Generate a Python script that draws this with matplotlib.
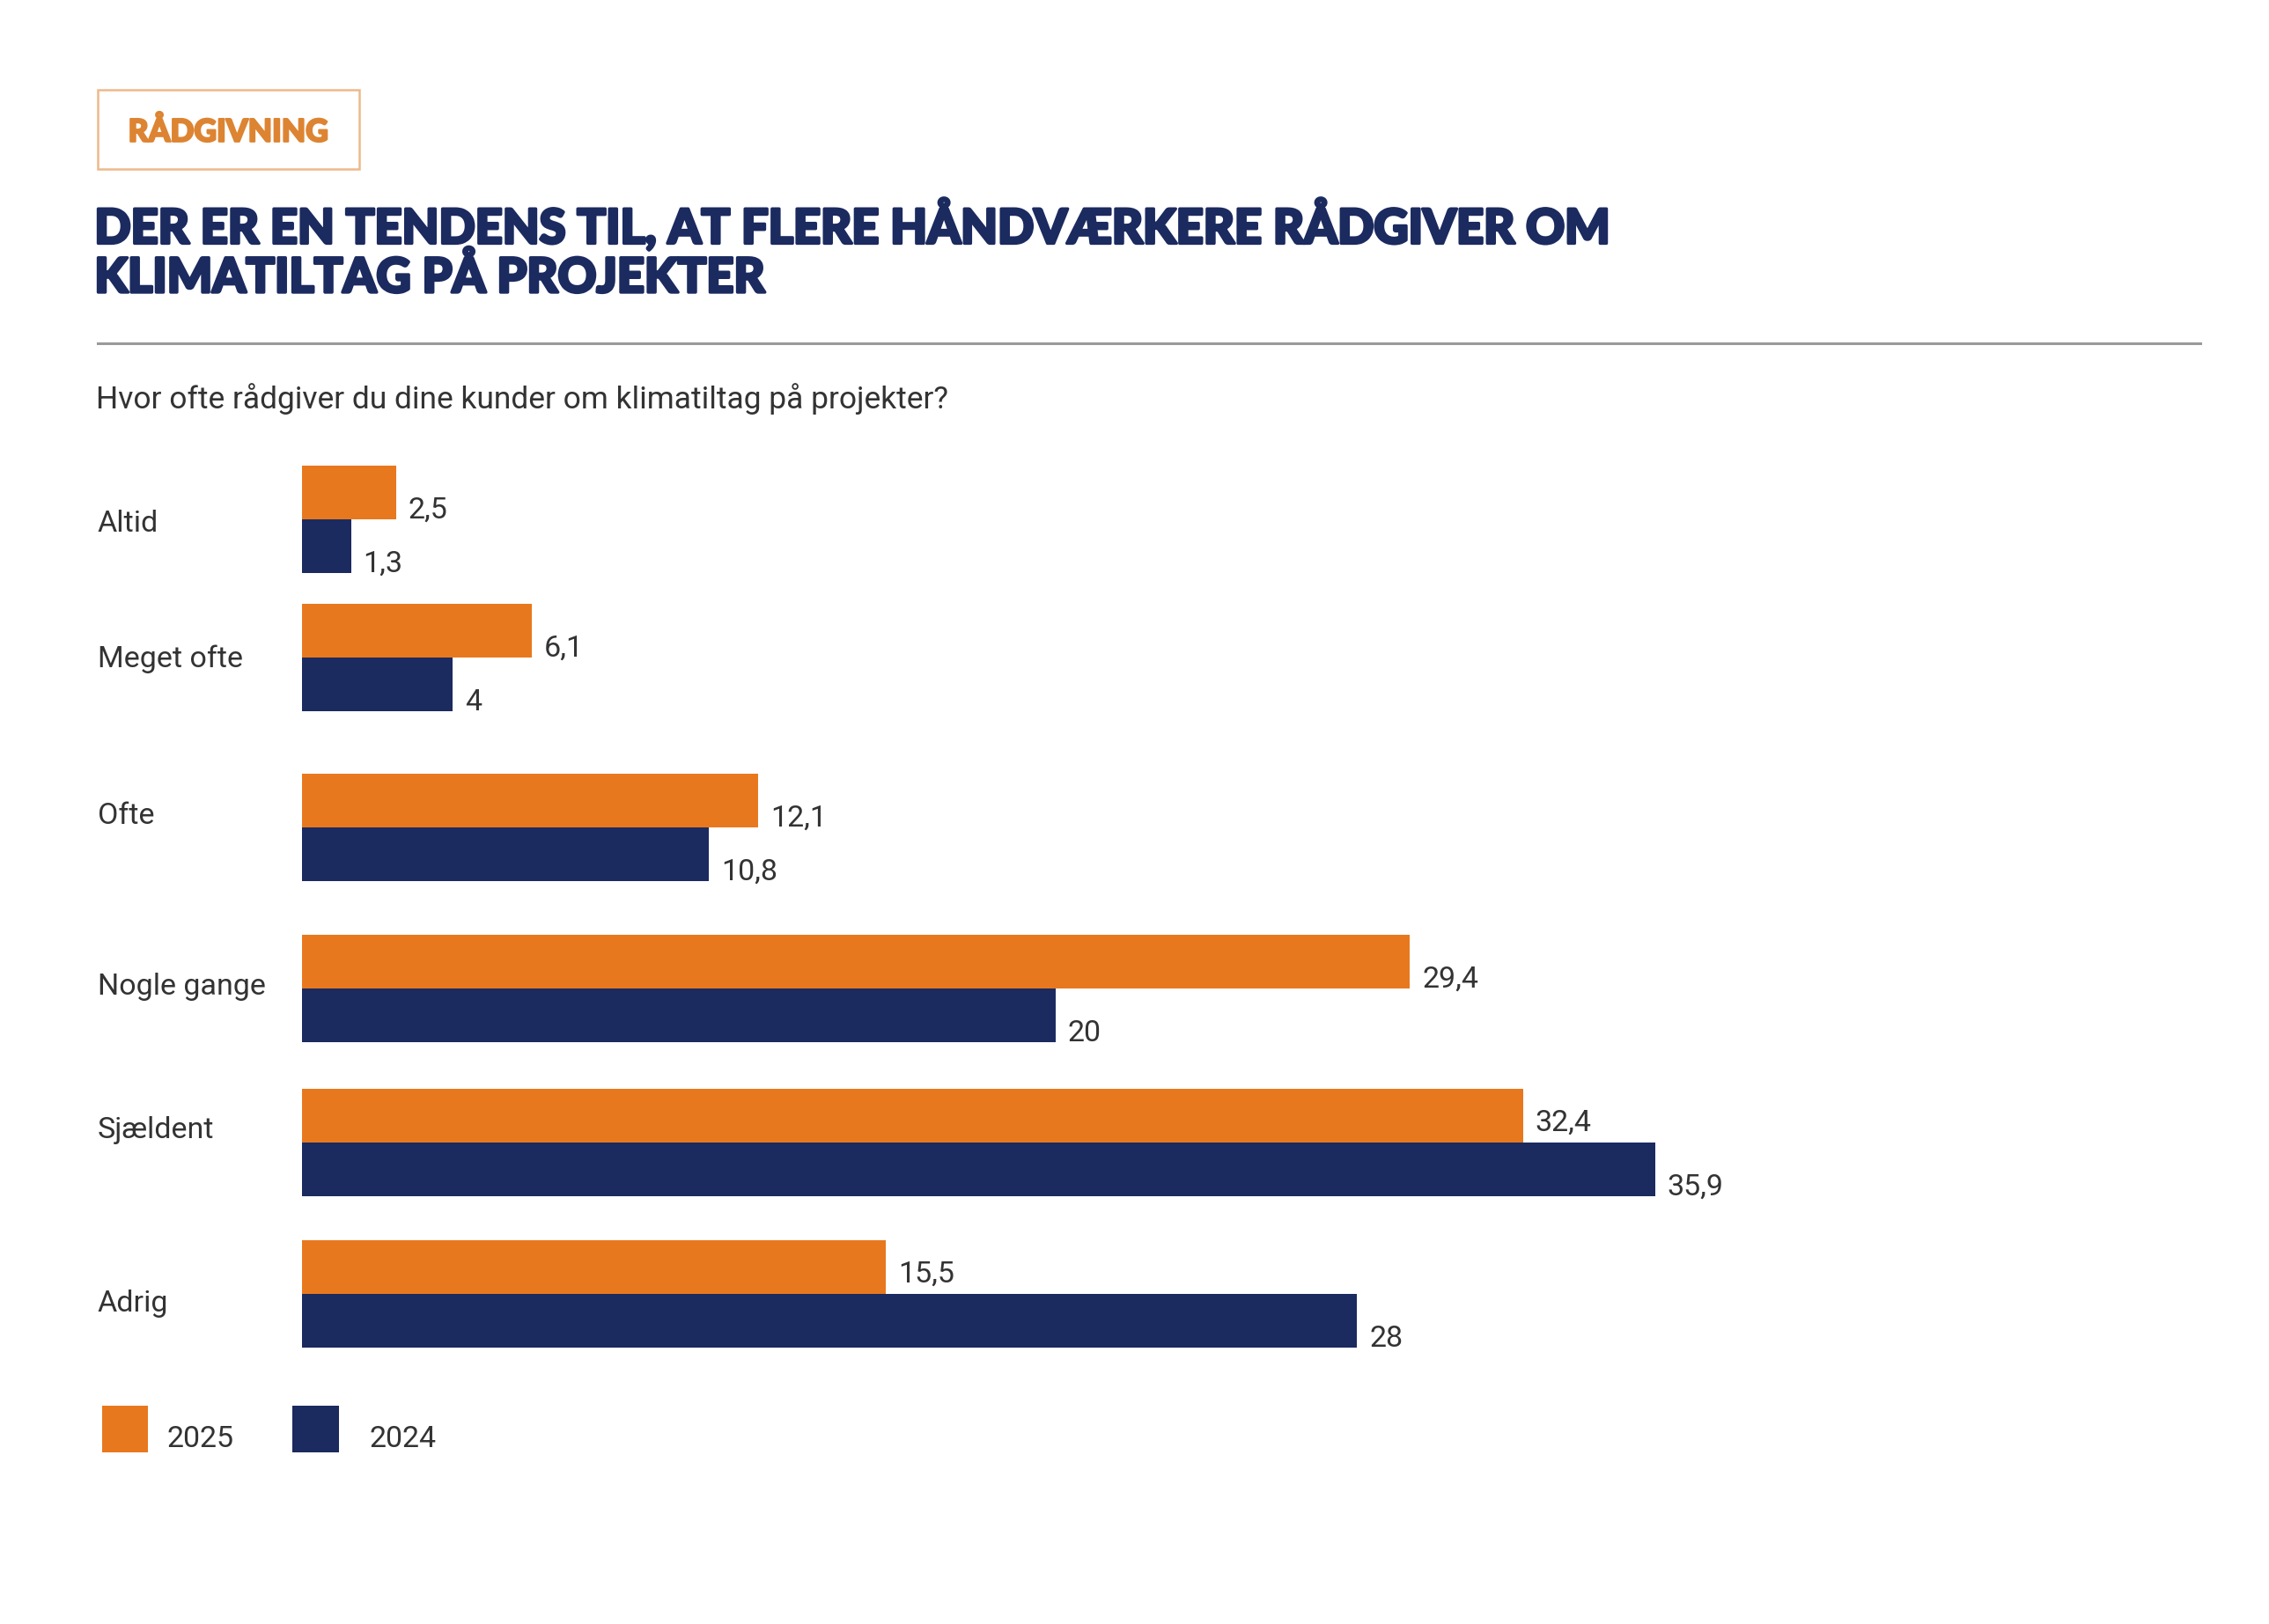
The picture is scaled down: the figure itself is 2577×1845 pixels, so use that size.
import matplotlib
matplotlib.use("Agg")
import matplotlib.pyplot as plt
from matplotlib.patches import Rectangle
import matplotlib.transforms as mtransforms
import matplotlib.patheffects as pe

# ---- data ----
categories = ["Altid", "Meget ofte", "Ofte", "Nogle gange", "Sjældent", "Adrig"]
series_names = ["2025", "2024"]
values_2025 = [2.5, 6.1, 12.1, 29.4, 32.4, 15.5]
values_2024 = [1.3, 4.0, 10.8, 20.0, 35.9, 28.0]

tag_text = "RÅDGIVNING"
title_lines = ["DER ER EN TENDENS TIL, AT FLERE HÅNDVÆRKERE RÅDGIVER OM",
               "KLIMATILTAG PÅ PROJEKTER"]
subtitle = "Hvor ofte rådgiver du dine kunder om klimatiltag på projekter?"

# ---- layout / style ----
ORANGE = "#E8781E"
NAVY = "#1B2A5F"
TEXT = "#333333"
TAG = "#DD8432"
row_pos = [0.0, 1.57, 3.50, 5.33, 7.08, 8.80]   # uneven row spacing of the layout
label_nudge = [0.05, 0.02, -0.13, -0.02, -0.14, 0.11]
bar_h = 0.61

W, H = 2577, 1845
fig = plt.figure(figsize=(W / 100, H / 100), dpi=100)
fig.patch.set_facecolor("white")

S = W / 1560.0
def fx(d):
    return d * S / W
def fy(d):
    return 1 - d * S / H
def px(x):
    return x / W
def py(y):
    return 1 - y / H

body_font = "Roboto"
head_font = ["Lato", "Roboto"]

# Tag box
fig.patches.append(Rectangle((fx(67), fy(116)), fx(247) - fx(67), fy(62) - fy(116),
                             transform=fig.transFigure, fill=False,
                             edgecolor="#EDB98A", linewidth=1.8))
fig.text(fx(157), fy(91), tag_text, ha="center", va="center", color=TAG,
         fontsize=25.5, fontweight="black", family=head_font,
         path_effects=[pe.withStroke(linewidth=1.6, foreground=TAG)])

# Title
for i, line in enumerate(title_lines):
    fig.text(fx(65), fy(155 + 36 * i), line, ha="left", va="center", color=NAVY,
             fontsize=39, fontweight="black", family=head_font,
             path_effects=[pe.withStroke(linewidth=2.4, foreground=NAVY)])

# Rule
fig.add_artist(plt.Line2D([fx(67), fx(1513)], [fy(236), fy(236)],
                          transform=fig.transFigure, color="#9a9a9a", linewidth=2.2))

# Subtitle
fig.text(fx(66), fy(274), subtitle, ha="left", va="center", color=TEXT,
         fontsize=25.5, family=body_font)

# Bars axis (pixel layout)
x_left = 343
unit_px = 42.8
xmax = 50
top_px, bot_px = 490, 1590
ax = fig.add_axes([px(x_left), py(bot_px), (xmax * unit_px) / W, (bot_px - top_px) / H])
ax.set_xlim(0, xmax)
ax.set_ylim((bot_px - 590) / 100.0, (top_px - 590) / 100.0)

y25 = [p - bar_h / 2 for p in row_pos]
y24 = [p + bar_h / 2 for p in row_pos]
b1 = ax.barh(y25, values_2025, height=bar_h, color=ORANGE, label=series_names[0])
b2 = ax.barh(y24, values_2024, height=bar_h, color=NAVY, label=series_names[1])

def fmt(v):
    s = ("%.1f" % v).replace(".", ",")
    if s.endswith(",0"):
        s = s[:-2]
    return s

for y, v, other in zip(y25, values_2025, values_2024):
    lift = 0.22 if other > v else 0.10
    ax.annotate(fmt(v), xy=(v, y + bar_h / 2 - lift), xytext=(10, 0),
                textcoords="offset points", ha="left", va="center",
                color=TEXT, fontsize=24.5, family=body_font)
for y, v in zip(y24, values_2024):
    ax.annotate(fmt(v), xy=(v, y + bar_h / 2 - 0.10), xytext=(10, 0),
                textcoords="offset points", ha="left", va="center",
                color=TEXT, fontsize=24.5, family=body_font)

ax.axis("off")

# Category labels
trans = mtransforms.blended_transform_factory(fig.transFigure, ax.transData)
for c, p, n in zip(categories, row_pos, label_nudge):
    ax.text(fx(67), p + n, c, transform=trans, ha="left", va="center",
            color=TEXT, fontsize=24.5, family=body_font)

# Legend (manual swatches)
for (x_sw, x_tx), name, col in zip(((70, 115), (201, 254)), series_names, (ORANGE, NAVY)):
    fig.patches.append(Rectangle((fx(x_sw), fy(999)), fx(x_sw + 32) - fx(x_sw),
                                 fy(967) - fy(999), transform=fig.transFigure,
                                 facecolor=col, edgecolor="none"))
    fig.text(fx(x_tx), fy(990), name, ha="left", va="center", color=TEXT,
             fontsize=24.5, family=body_font)

fig.savefig("out.png", dpi=100, facecolor="white")
